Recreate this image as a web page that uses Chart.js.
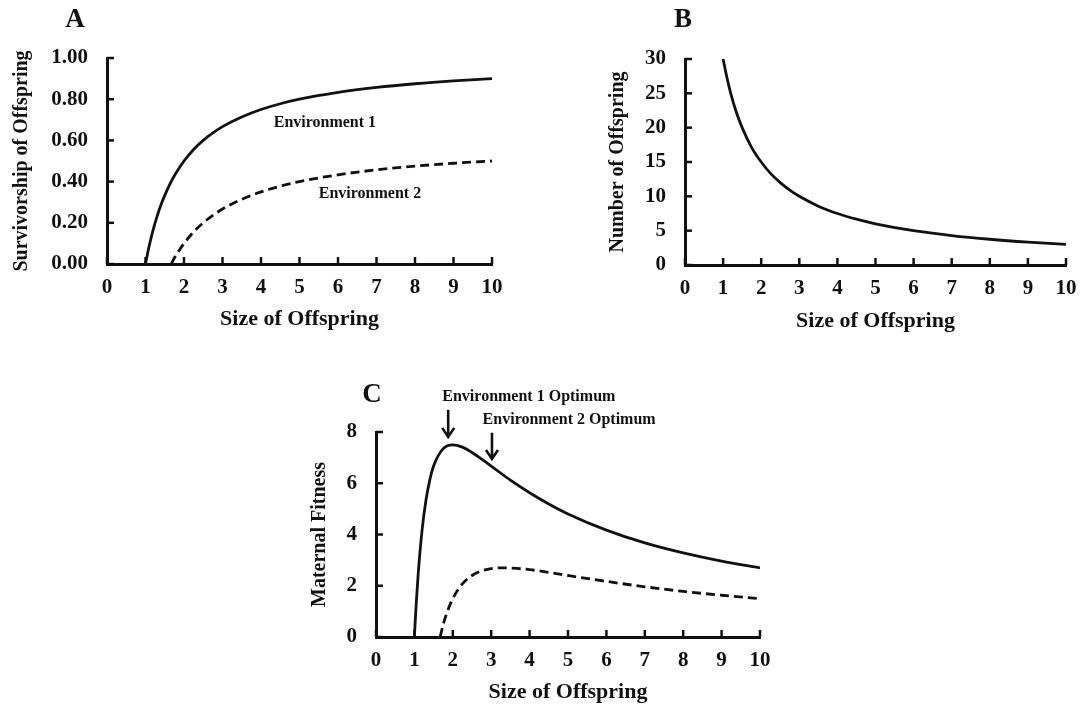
<!DOCTYPE html>
<html>
<head>
<meta charset="utf-8">
<script src="https://cdn.jsdelivr.net/npm/chart.js@4.4.1/dist/chart.umd.min.js"></script>
<style>
  html, body { margin: 0; padding: 0; background: #fff; }
  body { width: 1087px; height: 708px; position: relative; overflow: hidden; }
  .panel { position: absolute; }
</style>
</head>
<body>
<div class="panel" style="left:0px;top:0px;width:540px;height:340px"><canvas id="chartA"></canvas></div>
<div class="panel" style="left:560px;top:0px;width:527px;height:340px"><canvas id="chartB"></canvas></div>
<div class="panel" style="left:290px;top:370px;width:520px;height:338px"><canvas id="chartC"></canvas></div>
<script>
// --- data ---
const xTicks = [0, 1, 2, 3, 4, 5, 6, 7, 8, 9, 10];

// A: survivorship vs size
const sizeA1 = [1, 1.03, 1.06, 1.1, 1.15, 1.2, 1.3, 1.4, 1.5, 1.65, 1.8, 2, 2.25, 2.5, 2.75, 3, 3.5, 4, 4.5, 5, 6, 7, 8, 9, 10];
const survA1 = [0, 0.029, 0.057, 0.091, 0.13, 0.167, 0.231, 0.286, 0.333, 0.394, 0.444, 0.50, 0.556, 0.60, 0.636, 0.667, 0.714, 0.75, 0.778, 0.80, 0.833, 0.857, 0.875, 0.889, 0.90];
const sizeA2 = [1.67, 1.75, 1.85, 2, 2.25, 2.5, 2.75, 3, 3.5, 4, 4.5, 5, 6, 7, 8, 9, 10];
const survA2 = [0, 0.029, 0.059, 0.10, 0.156, 0.20, 0.236, 0.267, 0.314, 0.35, 0.378, 0.40, 0.433, 0.457, 0.475, 0.489, 0.50];

// B: number of offspring vs size
const sizeB = [1, 1.1, 1.2, 1.35, 1.5, 1.75, 2, 2.25, 2.5, 2.75, 3, 3.5, 4, 4.5, 5, 6, 7, 8, 9, 10];
const numB = [30, 27.3, 25, 22.2, 20, 17.1, 15, 13.3, 12, 10.9, 10, 8.57, 7.5, 6.67, 6, 5, 4.29, 3.75, 3.33, 3];

// C: maternal fitness vs size
const sizeC1 = [1, 1.02, 1.05, 1.1, 1.2, 1.3, 1.4, 1.5, 1.75, 2, 2.25, 2.5, 2.75, 3, 3.5, 4, 4.5, 5, 6, 7, 8, 9, 10];
const fitC1 = [0, 0.58, 1.36, 2.48, 4.17, 5.33, 6.12, 6.67, 7.35, 7.5, 7.41, 7.2, 6.94, 6.67, 6.12, 5.63, 5.19, 4.8, 4.17, 3.67, 3.28, 2.96, 2.7];
const sizeC2 = [1.67, 1.75, 1.85, 2, 2.25, 2.5, 2.75, 3, 3.33, 3.5, 4, 4.5, 5, 6, 7, 8, 9, 10];
const fitC2 = [0, 0.49, 0.96, 1.5, 2.07, 2.4, 2.58, 2.67, 2.7, 2.69, 2.63, 2.52, 2.4, 2.17, 1.96, 1.78, 1.63, 1.5];

const serif = "'Liberation Serif', 'Times New Roman', serif";
const ink = '#111';

function pts(xs, ys) {
  return xs.map((x, i) => ({ x: x, y: ys[i] }));
}

function curve(xs, ys, dashed) {
  return {
    data: pts(xs, ys),
    borderColor: ink,
    borderWidth: 2.8,
    borderDash: dashed ? [9, 5] : [],
    pointRadius: 0,
    cubicInterpolationMode: 'monotone',
    fill: false
  };
}

// small inward tick marks, like the original figure
const innerTicks = {
  id: 'innerTicks',
  afterDraw(chart) {
    const ctx = chart.ctx;
    const a = chart.chartArea;
    ctx.save();
    ctx.strokeStyle = ink;
    ctx.lineWidth = 2.5;
    chart.scales.x.ticks.forEach(t => {
      const px = chart.scales.x.getPixelForValue(t.value);
      ctx.beginPath();
      ctx.moveTo(px, a.bottom);
      ctx.lineTo(px, a.bottom - 7);
      ctx.stroke();
    });
    chart.scales.y.ticks.forEach(t => {
      const py = chart.scales.y.getPixelForValue(t.value);
      ctx.beginPath();
      ctx.moveTo(a.left, py);
      ctx.lineTo(a.left + 7, py);
      ctx.stroke();
    });
    ctx.restore();
  }
};

// panel letters and text notes, placed in data space
const notes = {
  id: 'notes',
  afterDraw(chart) {
    const o = chart.options.plugins.notes;
    if (!o) return;
    const ctx = chart.ctx;
    const a = chart.chartArea;
    const sx = chart.scales.x, sy = chart.scales.y;
    ctx.save();
    ctx.fillStyle = ink;
    ctx.strokeStyle = ink;
    ctx.textAlign = 'center';
    ctx.textBaseline = 'middle';
    ctx.font = 'bold 27px ' + serif;
    ctx.fillText(o.letter, a.left + o.letterDx, a.top + o.letterDy);
    ctx.font = 'bold 16px ' + serif;
    (o.labels || []).forEach(l => {
      ctx.fillText(l.text, sx.getPixelForValue(l.x), sy.getPixelForValue(l.y));
    });
    ctx.lineWidth = 2.6;
    (o.arrows || []).forEach(ar => {
      const px = sx.getPixelForValue(ar.x);
      const y0 = sy.getPixelForValue(ar.y0);
      const y1 = sy.getPixelForValue(ar.y1);
      ctx.beginPath();
      ctx.moveTo(px, y0);
      ctx.lineTo(px, y1);
      ctx.moveTo(px - 6, y1 - 9);
      ctx.lineTo(px, y1);
      ctx.lineTo(px + 6, y1 - 9);
      ctx.stroke();
    });
    ctx.restore();
  }
};

function makeChart(id, cfg) {
  return new Chart(document.getElementById(id), {
    type: 'line',
    data: { datasets: cfg.datasets },
    options: {
      responsive: true,
      maintainAspectRatio: false,
      animation: false,
      layout: { padding: cfg.padding },
      plugins: { legend: { display: false }, tooltip: { enabled: false }, notes: cfg.notes },
      scales: {
        x: {
          type: 'linear',
          min: 0, max: 10,
          afterFit(scale) { scale.height = cfg.xHeight; },
          afterBuildTicks(scale) { scale.ticks = xTicks.map(v => ({ value: v })); },
          grid: { display: false },
          border: { display: true, color: ink, width: 3 },
          ticks: { color: ink, padding: 3, autoSkip: false, maxRotation: 0, font: { family: serif, size: 21, weight: 'bold' } },
          title: { display: true, text: 'Size of Offspring', color: ink, padding: { top: 0, bottom: cfg.xTitlePad }, font: { family: serif, size: 22, weight: 'bold' } }
        },
        y: {
          min: 0, max: cfg.yMax,
          afterFit(scale) { scale.width = cfg.yWidth; },
          afterBuildTicks(scale) { scale.ticks = cfg.yTicks.map(v => ({ value: v })); },
          grid: { display: false },
          border: { display: true, color: ink, width: 3 },
          ticks: {
            color: ink, padding: 11, autoSkip: false,
            font: { family: serif, size: 21, weight: 'bold' },
            callback: cfg.yFormat
          },
          title: { display: true, text: cfg.yTitle, color: ink, padding: { top: 10, bottom: 0 }, font: { family: serif, size: 20, weight: 'bold' } }
        }
      }
    },
    plugins: [innerTicks, notes]
  });
}

const tickA = [0, 0.2, 0.4, 0.6, 0.8, 1.0];
const tickB = [0, 5, 10, 15, 20, 25, 30];
const tickC = [0, 2, 4, 6, 8];

makeChart('chartA', {
  datasets: [curve(sizeA1, survA1, false), curve(sizeA2, survA2, true)],
  padding: { left: 0, right: 48, top: 58, bottom: 0 },
  yWidth: 107, xHeight: 76, xTitlePad: 7,
  yMax: 1, yTicks: tickA, yFormat: v => Number(v).toFixed(2),
  yTitle: 'Survivorship of Offspring',
  notes: {
    letter: 'A', letterDx: -32, letterDy: -38,
    labels: [
      { text: 'Environment 1', x: 5.66, y: 0.684 },
      { text: 'Environment 2', x: 6.83, y: 0.34 }
    ]
  }
});

makeChart('chartB', {
  datasets: [curve(sizeB, numB, false)],
  padding: { left: 36, right: 21, top: 59, bottom: 0 },
  yWidth: 89, xHeight: 75, xTitlePad: 5,
  yMax: 30, yTicks: tickB, yFormat: v => v,
  yTitle: 'Number of Offspring',
  notes: { letter: 'B', letterDx: -2, letterDy: -39 }
});

makeChart('chartC', {
  datasets: [curve(sizeC1, fitC1, false), curve(sizeC2, fitC2, true)],
  padding: { left: 8, right: 50, top: 62, bottom: 0 },
  yWidth: 78, xHeight: 71, xTitlePad: 2,
  yMax: 8, yTicks: tickC, yFormat: v => v,
  yTitle: 'Maternal Fitness',
  notes: {
    letter: 'C', letterDx: -4, letterDy: -37,
    labels: [
      { text: 'Environment 1 Optimum', x: 3.98, y: 9.37 },
      { text: 'Environment 2 Optimum', x: 5.03, y: 8.47 }
    ],
    arrows: [
      { x: 1.88, y0: 8.87, y1: 7.81 },
      { x: 3.02, y0: 7.97, y1: 6.95 }
    ]
  }
});
</script>
</body>
</html>
